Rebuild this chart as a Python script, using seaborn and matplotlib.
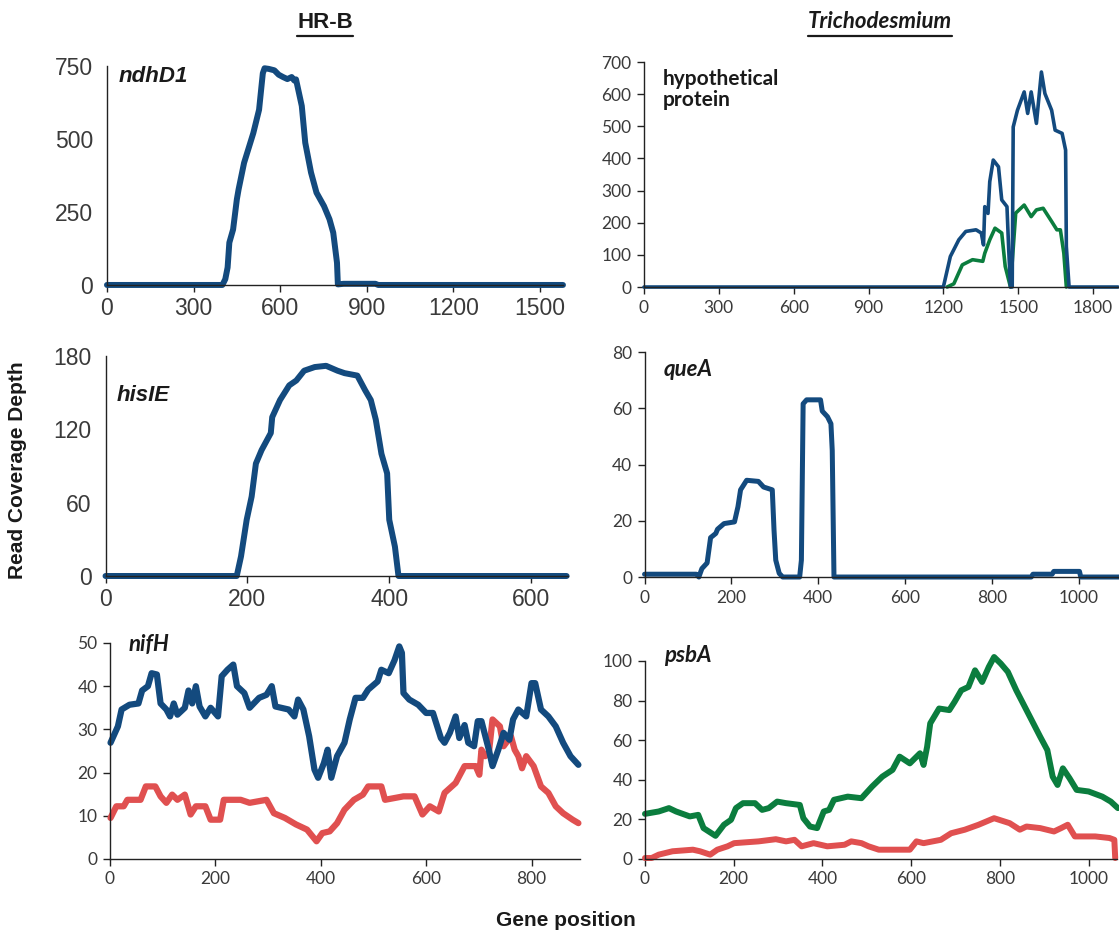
import numpy as np
import pandas as pd
import matplotlib
matplotlib.use("Agg")
import matplotlib.pyplot as plt
import seaborn as sns
from matplotlib.lines import Line2D

# coverage profiles (gene position, read depth)
ndhd1_x = [0, 400, 410, 418, 424, 437, 450, 456, 475, 507, 527, 540, 546, 560, 580, 595, 610, 625, 640, 649,
           655, 675, 687, 707, 726, 752, 771, 784, 797, 800, 820, 930, 940, 1580]
ndhd1_y = [0, 0, 20, 60, 145, 190, 293, 327, 418, 520, 600, 725, 742, 740, 735, 720, 712, 705, 712, 700,
           704, 613, 487, 385, 316, 270, 225, 179, 76, 2, 4, 4, 0, 0]

hyp_blue_x = [0, 1200, 1228, 1262, 1290, 1331, 1352, 1361, 1366, 1379, 1386, 1400, 1421, 1434, 1455, 1462,
              1469, 1476, 1480, 1497, 1524, 1538, 1552, 1573, 1593, 1607, 1634, 1648, 1676, 1690, 1693, 1704, 1900]
hyp_blue_y = [0, 0, 95, 147, 173, 178, 168, 131, 250, 229, 328, 395, 374, 271, 250, 116,
              0, 0, 498, 550, 607, 540, 607, 509, 669, 602, 550, 488, 478, 426, 126, 0, 0]
hyp_green_x = [1215, 1242, 1276, 1317, 1358, 1366, 1386, 1407, 1434, 1448, 1469, 1490, 1524, 1552, 1573, 1600,
               1634, 1655, 1669, 1683, 1693]
hyp_green_y = [0, 10, 69, 85, 80, 105, 147, 183, 168, 64, 0, 230, 255, 219, 240, 245,
               204, 178, 178, 105, 0]

hisie_x = [0, 185, 191, 199, 206, 212, 220, 233, 235, 246, 259, 269, 280, 295, 311, 327, 337, 355, 366, 374,
           381, 389, 397, 400, 408, 413, 650]
hisie_y = [0, 0, 16, 46, 65, 92, 103, 117, 130, 144, 156, 160, 168, 171, 172, 168, 166, 164, 152, 144,
           128, 100, 84, 46, 24, 0, 0]

quea_x = [0, 119, 125, 132, 144, 152, 164, 168, 183, 207, 215, 221, 235, 262, 274, 294, 298, 302, 310, 318,
          357, 361, 365, 373, 405, 409, 421, 429, 432, 436, 890, 894, 938, 942, 1001, 1004, 1100]
quea_y = [1, 1, 0, 3, 5, 14, 15.5, 17, 19, 19.6, 25, 31, 34.4, 34, 32, 31, 16.7, 6, 1.3, 0,
          0, 6, 61.6, 63, 63, 59, 57, 54.5, 45, 0, 0, 1, 1, 2, 2, 0, 0]

nifh_blue_x = [1, 15, 22, 37, 54, 61, 72, 79, 89, 96, 107, 114, 121, 128, 142, 149, 156, 163, 170, 181, 191,
               205, 212, 223, 234, 241, 255, 265, 283, 297, 307, 314, 339, 350, 357, 367, 378, 388, 395, 406,
               413, 420, 431, 445, 455, 466, 480, 490, 508, 515, 529, 540, 549, 554, 557, 568, 585, 600, 613,
               628, 635, 645, 656, 663, 673, 680, 691, 698, 705, 719, 726, 737, 747, 758, 765, 775, 790, 800,
               807, 818, 832, 846, 860, 874, 889]
nifh_blue_y = [26.9, 30.7, 34.6, 35.7, 36, 39, 40, 43, 42.7, 36, 34.6, 33, 36, 33.4, 35, 39, 36, 40, 35.3, 33, 35,
               33, 42.3, 43.8, 45, 40, 38.4, 35, 37.3, 38, 40, 35.3, 34.6, 33, 36.9, 34.6, 28.4, 20.7, 18.8, 22.2,
               25.3, 18.8, 23.8, 26.9, 32.3, 37.3, 37.3, 39.2, 41.1, 43.8, 43, 46, 49.2, 47.7, 38.4, 36.9, 35.7,
               33.8, 33.8, 28, 26.9, 29.2, 33, 28, 31, 26.9, 26.1, 31.9, 31.9, 25.3, 21.5, 25.3, 29.2, 27.6, 32.3,
               34.6, 33, 40.7, 40.7, 34.6, 33, 30.7, 26.9, 23.8, 21.8]
nifh_red_x = [1, 12, 26, 33, 58, 68, 86, 96, 107, 118, 128, 142, 153, 163, 181, 191, 209, 216, 248, 265, 297,
              311, 332, 353, 374, 392, 403, 417, 431, 445, 463, 480, 490, 515, 522, 557, 578, 593, 607, 624,
              635, 656, 673, 694, 701, 705, 712, 719, 726, 740, 747, 761, 768, 775, 782, 790, 804, 818, 832,
              846, 860, 878, 889]
nifh_red_y = [9.5, 12.2, 12.2, 13.7, 13.7, 16.8, 16.8, 14.5, 13, 14.9, 13.7, 14.9, 10.3, 12.2, 12.2, 9.1, 9.1,
              13.7, 13.7, 13, 13.7, 10.6, 9.5, 8, 6.8, 4.1, 6, 6.4, 8.3, 11.4, 13.7, 14.9, 16.8, 16.8, 13.7,
              14.5, 14.5, 10.3, 12.2, 11, 15.3, 17.6, 21.5, 21.5, 19.5, 25.3, 23.8, 24.5, 32.3, 30.7, 26.1, 28.4,
              25.3, 23.8, 21, 23.8, 21.5, 16.8, 15.3, 12.2, 10.6, 9.1, 8.3]

psba_green_x = [0, 31, 54, 70, 101, 120, 132, 159, 178, 194, 205, 221, 248, 264, 279, 298, 318, 349, 357, 372,
                388, 403, 415, 426, 457, 488, 512, 535, 558, 574, 597, 620, 628, 636, 643, 663, 686, 698, 713,
                729, 744, 760, 775, 787, 802, 818, 837, 860, 891, 907, 919, 930, 942, 957, 973, 1000, 1031,
                1050, 1066]
psba_green_y = [22.8, 24, 25.7, 24, 21.5, 22.3, 15.6, 11.7, 17.3, 19.8, 25.7, 28.2, 28.2, 24.8, 25.7, 29, 28.2,
                27.3, 20.6, 16.4, 15.6, 24, 24.8, 29.9, 31.5, 30.7, 36.6, 41.6, 45, 51.7, 48.3, 53.4, 47.5,
                56.7, 68.5, 76, 75.2, 79.4, 85.2, 86.9, 95.3, 89.4, 97, 102, 98.7, 94.5, 85.2, 75.2, 61.7, 55,
                41.6, 37.4, 45.8, 40.8, 34.9, 34.1, 31.5, 29, 25.7]
psba_red_x = [0, 15, 31, 62, 108, 124, 147, 163, 186, 201, 256, 295, 318, 337, 353, 380, 411, 450, 465, 488,
              504, 527, 597, 612, 628, 667, 690, 721, 752, 787, 822, 845, 860, 891, 922, 938, 953, 969, 1015,
              1047, 1058, 1060]
psba_red_y = [0.5, 0.5, 2.2, 3.9, 4.7, 3.9, 2.2, 4.7, 6.4, 8, 8.9, 10, 8.9, 9.7, 6.4, 8, 6.4, 7.2, 8.9, 8,
              6.4, 4.7, 4.7, 8.9, 8, 9.7, 13, 14.8, 17.3, 20.6, 18.1, 14.8, 16.4, 15.6, 13.9, 15.6, 17.3, 11.4,
              11.4, 10.6, 9.7, 0.5]

BLUE = "#134a7e"
GREEN = "#0b7d3e"
RED = "#e05050"
ARIAL = "Liberation Sans"
CALIBRI = "Lato"

sns.set_style("ticks")
fig = plt.figure(figsize=(11.19, 9.34), dpi=100)


def panel(rect, series, xlim, xticks, ylim, yticks, lw, tickfont, ticksize, label, labelkw, ytick_len=5):
    ax = fig.add_axes(rect)
    for xs, ys, col in series:
        df = pd.DataFrame({"pos": xs, "depth": ys})
        sns.lineplot(data=df, x="pos", y="depth", estimator=None, sort=False,
                     color=col, linewidth=lw, ax=ax, clip_on=False)
    ax.set_xlim(*xlim)
    ax.set_ylim(*ylim)
    ax.set_xticks(xticks)
    ax.set_yticks(yticks)
    ax.set_xlabel("")
    ax.set_ylabel("")
    sns.despine(ax=ax)
    for s in ["left", "bottom"]:
        ax.spines[s].set_color("#222222")
        ax.spines[s].set_linewidth(1.0)
    ax.tick_params(direction="out", length=5, width=1, color="#222222", labelcolor="#3a3a3a",
                   labelsize=ticksize, pad=4)
    ax.tick_params(axis="y", length=ytick_len, pad=4 + (5 - ytick_len) * 1.2)
    for t in ax.get_xticklabels() + ax.get_yticklabels():
        t.set_fontfamily(tickfont)
    ax.text(labelkw.pop("x"), labelkw.pop("y"), label, transform=ax.transAxes, va="top", ha="left",
            color="#1a1a1a", **labelkw)
    return ax


panel([0.0956, 0.6949, 0.4075, 0.2345], [(ndhd1_x, ndhd1_y, BLUE)], (0, 1580), range(0, 1501, 300),
      (0, 750), [0, 250, 500, 750], 4.3, ARIAL, 16.5, "ndhD1",
      dict(x=0.025, y=1.0, fontsize=16, fontweight="bold", fontstyle="italic", family=ARIAL), ytick_len=0)
panel([0.5755, 0.6927, 0.4236, 0.2409], [(hyp_green_x, hyp_green_y, GREEN), (hyp_blue_x, hyp_blue_y, BLUE)],
      (0, 1900), range(0, 1801, 300), (0, 700), range(0, 701, 100), 2.6, CALIBRI, 12.5,
      "hypothetical\nprotein",
      dict(x=0.04, y=0.97, fontsize=15, fontweight="bold", family=CALIBRI, linespacing=1.1))
panel([0.0943, 0.3833, 0.4133, 0.2355], [(hisie_x, hisie_y, BLUE)], (0, 652), [0, 200, 400, 600],
      (0, 180), [0, 60, 120, 180], 4.3, ARIAL, 16.5, "hisIE",
      dict(x=0.025, y=0.87, fontsize=16, fontweight="bold", fontstyle="italic", family=ARIAL), ytick_len=0)
panel([0.576, 0.3822, 0.424, 0.2409], [(quea_x, quea_y, BLUE)], (0, 1092), range(0, 1001, 200),
      (0, 80), range(0, 81, 20), 3.6, CALIBRI, 12.5, "queA",
      dict(x=0.04, y=0.97, fontsize=16, fontweight="bold", fontstyle="italic", family=CALIBRI))
panel([0.0983, 0.0803, 0.42, 0.2313], [(nifh_red_x, nifh_red_y, RED), (nifh_blue_x, nifh_blue_y, BLUE)],
      (0, 892), range(0, 801, 200), (0, 50), range(0, 51, 10), 4.5, CALIBRI, 12.5, "nifH",
      dict(x=0.04, y=1.04, fontsize=16, fontweight="bold", fontstyle="italic", family=CALIBRI))
panel([0.5764, 0.0803, 0.4218, 0.212], [(psba_red_x, psba_red_y, RED), (psba_green_x, psba_green_y, GREEN)],
      (0, 1064), range(0, 1001, 200), (0, 100), range(0, 101, 20), 4.3, CALIBRI, 12.5, "psbA",
      dict(x=0.04, y=1.08, fontsize=16, fontweight="bold", fontstyle="italic", family=CALIBRI))

# column headers, underlined
renderer = fig.canvas.get_renderer()
W, H = fig.bbox.width, fig.bbox.height
for x, txt, fam, sty in [(325, "HR-B", ARIAL, "normal"), (880, "Trichodesmium", CALIBRI, "italic")]:
    t = fig.text(x / 1119, 1 - 22 / 934, txt, ha="center", va="center", fontsize=16,
                 fontweight="bold", fontstyle=sty, family=fam, color="#1a1a1a")
    bb = t.get_window_extent(renderer)
    yline = (bb.y0 - 3) / H
    fig.add_artist(Line2D([bb.x0 / W, bb.x1 / W], [yline, yline], color="#1a1a1a", lw=1.6))

fig.text(18 / 1119, 1 - 470 / 934, "Read Coverage Depth", rotation=90, ha="center", va="center",
         fontsize=15, fontweight="bold", family=ARIAL, color="#1a1a1a")
fig.text(566 / 1119, 1 - 920 / 934, "Gene position", ha="center", va="center",
         fontsize=15, fontweight="bold", family=ARIAL, color="#1a1a1a")

fig.savefig("out.png", dpi=100)
